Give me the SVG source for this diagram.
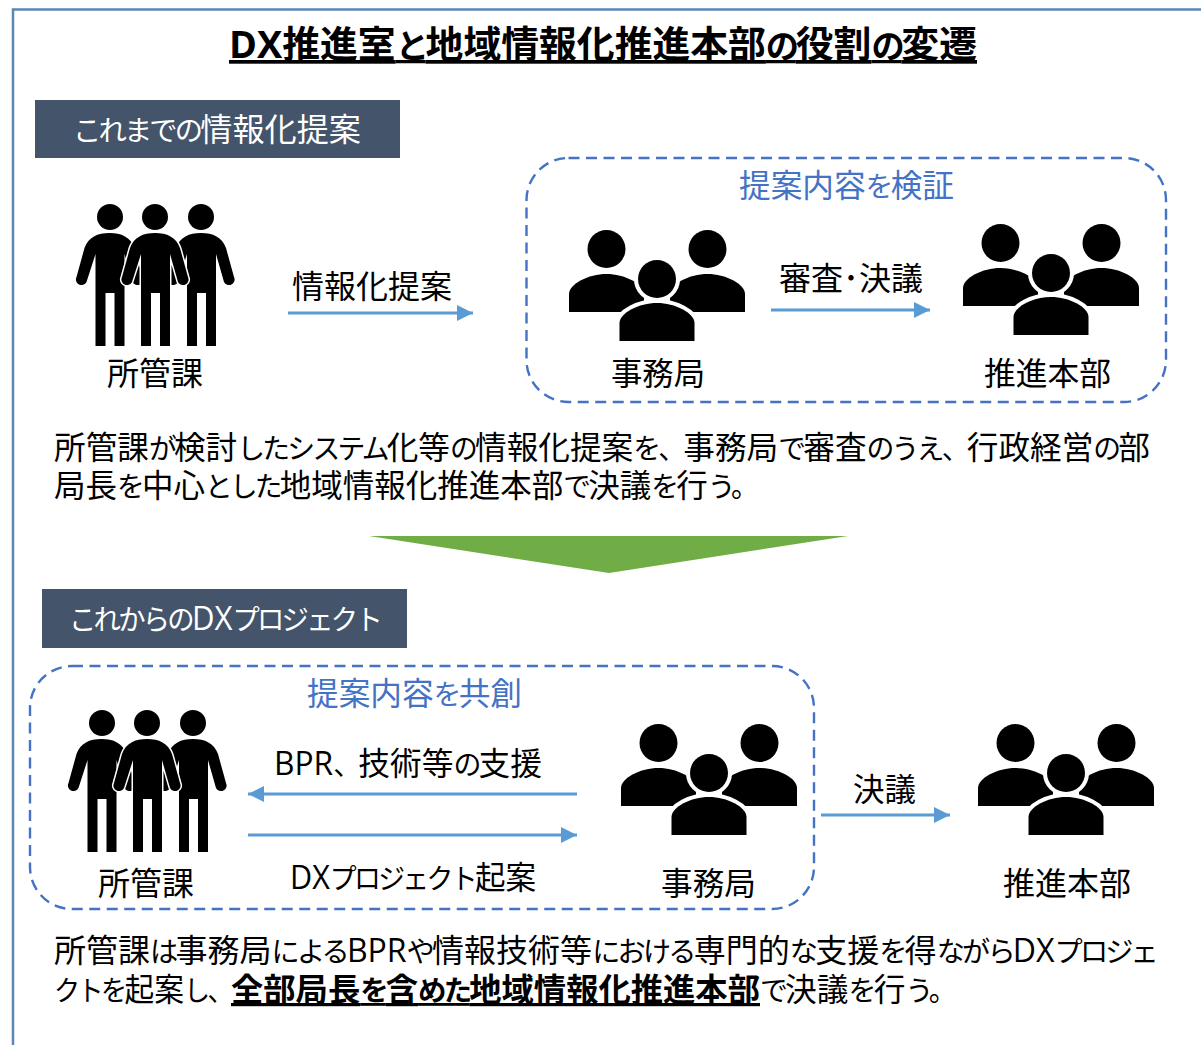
<svg xmlns="http://www.w3.org/2000/svg" width="1201" height="1045" viewBox="0 0 1201 1045">
<style>
text{font-family:"Open Sans","Noto Sans CJK JP",sans-serif;fill:#000;font-size:32px}
.k{font-size:.88em;letter-spacing:-.1em}
.h{fill:#fff}
.d{fill:#4472c4}
.box{fill:none;stroke:#4472c4;stroke-width:2.400;stroke-dasharray:11 6.500}
.ar{stroke:#5b9bd5;stroke-width:3;fill:none;marker-end:url(#a)}
.w{stroke:#fff;stroke-width:3;paint-order:stroke}
.w2{stroke:#fff;stroke-width:8;paint-order:stroke}
</style>
<defs>
<marker id="a" markerUnits="userSpaceOnUse" markerWidth="16" markerHeight="16" refX="16" refY="8" orient="auto"><path d="M0,0L16,8L0,16Z" fill="#5b9bd5"/></marker>
<path id="p" d="M0,16C12,16 21,20 25,31L33,60A5.500,5.500 0 0 1 23,65L15,37V129H5V76H-4V129H-14V37L-23,65A5.500,5.500 0 0 1 -33,60L-25,31C-21,20 -12,16 0,16Z"/>
<g id="three">
<circle cx="-45" r="13"/><circle cx="46" r="13"/><circle r="13"/>
<use href="#p" x="-45.500"/><use href="#p" x="46"/>
<use href="#p" class="w"/>
</g>
<path id="b" d="M-37.500,38V20C-37.500,10 -18,0 0,0C18,0 37.500,10 37.500,20V38Z"/>
<g id="group">
<use href="#b" x="-50.500" y="-5"/><use href="#b" x="50.500" y="-5"/>
<circle cx="-50.500" cy="-30" r="19"/><circle cx="50.500" cy="-30" r="19"/>
<use href="#b" y="24" class="w2"/>
<circle r="19" class="w2"/>
</g>
</defs>
<path id="frame" d="M13,1045V9.500H1201" fill="none" stroke="#5b87b5" stroke-width="2.500"/>
<g id="title"><text x="229" y="58" style="font-size:37px" font-weight="700" textLength="748" lengthAdjust="spacingAndGlyphs" text-decoration="underline">DX推進室<tspan class="k">と</tspan>地域情報化推進本部<tspan class="k">の</tspan>役割<tspan class="k">の</tspan>変遷</text></g>
<g id="header1"><rect x="35" y="100" width="365" height="58" fill="#44546a"/><text class="h" x="73" y="141" textLength="288" lengthAdjust="spacingAndGlyphs"><tspan class="k">これまでの</tspan>情報化提案</text></g>
<g id="header2"><rect x="42" y="589" width="365" height="59" fill="#44546a"/><text class="h" x="69" y="630" textLength="311" lengthAdjust="spacingAndGlyphs"><tspan class="k">これからの</tspan>DX<tspan class="k">プロジェクト</tspan></text></g>
<g id="verify"><rect class="box" x="526.500" y="158" width="639.500" height="244" rx="42"/><text class="d" x="739" y="197" textLength="215" lengthAdjust="spacingAndGlyphs">提案内容<tspan class="k">を</tspan>検証</text></g>
<g id="cocreate"><rect class="box" x="30" y="666" width="784" height="243" rx="42"/><text class="d" x="307" y="705" textLength="215" lengthAdjust="spacingAndGlyphs">提案内容<tspan class="k">を</tspan>共創</text></g>
<g id="connectors">
<path class="ar" d="M288,313H473"/>
<path class="ar" d="M771,310H930"/>
<path class="ar" d="M577,794H248"/>
<path class="ar" d="M248,835H577"/>
<path class="ar" d="M821,815H950"/>
</g>
<g id="n1"><use href="#three" x="155" y="217"/><text x="107" y="385" textLength="96" lengthAdjust="spacingAndGlyphs">所管課</text></g>
<g id="n2"><use href="#group" x="657" y="279"/><text x="611" y="385" textLength="94" lengthAdjust="spacingAndGlyphs">事務局</text></g>
<g id="n3"><use href="#group" x="1051" y="273"/><text x="984" y="385" textLength="127" lengthAdjust="spacingAndGlyphs">推進本部</text></g>
<g id="n4"><use href="#three" x="147" y="723"/><text x="98" y="895" textLength="96" lengthAdjust="spacingAndGlyphs">所管課</text></g>
<g id="n5"><use href="#group" x="709" y="773"/><text x="661" y="895" textLength="95" lengthAdjust="spacingAndGlyphs">事務局</text></g>
<g id="n6"><use href="#group" x="1066" y="773"/><text x="1003" y="895" textLength="128" lengthAdjust="spacingAndGlyphs">推進本部</text></g>
<g id="labels">
<text x="292" y="298" textLength="160" lengthAdjust="spacingAndGlyphs">情報化提案</text>
<text x="779" y="290" textLength="144" lengthAdjust="spacingAndGlyphs">審査･決議</text>
<text x="274" y="775" textLength="268" lengthAdjust="spacingAndGlyphs">BPR<tspan class="k">、</tspan>技術等<tspan class="k">の</tspan>支援</text>
<text x="290" y="889" textLength="246" lengthAdjust="spacingAndGlyphs">DX<tspan class="k">プロジェクト</tspan>起案</text>
<text x="853" y="801" textLength="63" lengthAdjust="spacingAndGlyphs">決議</text>
</g>
<g id="body">
<text x="54" y="459" textLength="1096" lengthAdjust="spacingAndGlyphs">所管課<tspan class="k">が</tspan>検討<tspan class="k">したシステム</tspan>化等<tspan class="k">の</tspan>情報化提案<tspan class="k">を、</tspan>事務局<tspan class="k">で</tspan>審査<tspan class="k">のうえ、</tspan>行政経営<tspan class="k">の</tspan>部</text>
<text x="54" y="497" textLength="702" lengthAdjust="spacingAndGlyphs">局長<tspan class="k">を</tspan>中心<tspan class="k">とした</tspan>地域情報化推進本部<tspan class="k">で</tspan>決議<tspan class="k">を</tspan>行<tspan class="k">う。</tspan></text>
<text x="54" y="962" textLength="1102" lengthAdjust="spacingAndGlyphs">所管課<tspan class="k">は</tspan>事務局<tspan class="k">による</tspan>BPR<tspan class="k">や</tspan>情報技術等<tspan class="k">における</tspan>専門的<tspan class="k">な</tspan>支援<tspan class="k">を</tspan>得<tspan class="k">ながら</tspan>DX<tspan class="k">プロジェ</tspan></text>
<text x="54" y="1001" textLength="177" lengthAdjust="spacingAndGlyphs"><tspan class="k">クトを</tspan>起案<tspan class="k">し、</tspan></text>
<text x="231" y="1001" font-weight="700" textLength="529" lengthAdjust="spacingAndGlyphs" text-decoration="underline">全部局長<tspan class="k">を</tspan>含<tspan class="k">めた</tspan>地域情報化推進本部</text>
<text x="760" y="1001" textLength="194" lengthAdjust="spacingAndGlyphs"><tspan class="k">で</tspan>決議<tspan class="k">を</tspan>行<tspan class="k">う。</tspan></text>
</g>
<polygon id="down" points="369,536 848,536 609,573" fill="#70ad47"/>
</svg>
